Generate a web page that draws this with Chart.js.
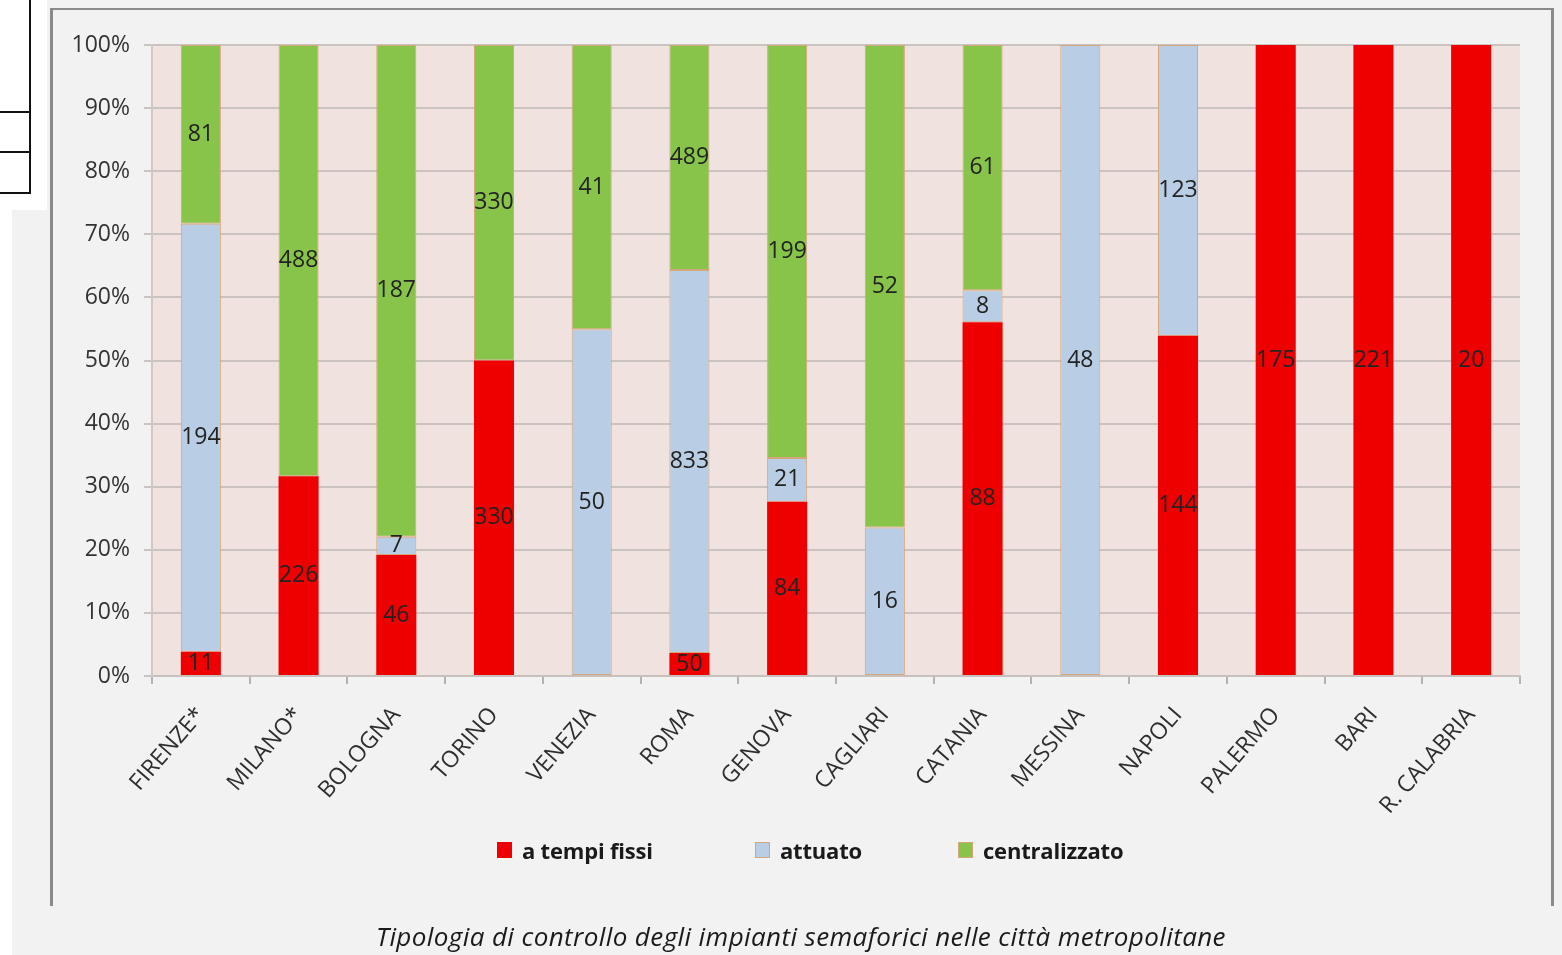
<!DOCTYPE html>
<html lang="it">
<head>
<meta charset="utf-8">
<title>Tipologia di controllo degli impianti semaforici</title>
<script src="https://cdn.jsdelivr.net/npm/chart.js@4/dist/chart.umd.min.js"></script>
<style>
  html, body { margin: 0; padding: 0; }
  body {
    width: 1562px; height: 955px; position: relative; overflow: hidden;
    background: #f2f2f2; font-family: "Open Sans", sans-serif;
  }
  .white { position: absolute; background: #fff; }
  .line { position: absolute; background: #111; }
  .frame { position: absolute; background: #8a8a8a; }
  #chart { position: absolute; left: 0; top: 0; }
  #legend {
    position: absolute; top: 835px; left: 0; width: 1562px; height: 32px;
  }
  .legend-item {
    position: absolute; top: 0; display: flex; align-items: center;
    font-weight: 700; font-size: 22px; color: #1a1a1a; white-space: nowrap;
    letter-spacing: -0.2px;
  }
  .legend-box {
    width: 15px; height: 16px; margin-right: 10px; box-sizing: border-box;
    border: 1px solid #d4a77a;
  }
  #caption {
    position: absolute; left: 40px; width: 1522px; top: 918px; text-align: center;
    font-style: italic; font-size: 26px; color: #1a1a1a; letter-spacing: 0.4px;
  }
</style>
</head>
<body>
<!-- page corner and stray table lines -->
<div class="white" style="left:0;top:0;width:47px;height:210px"></div>
<div class="white" style="left:0;top:0;width:12px;height:955px"></div>
<div class="line" style="left:29px;top:0;width:2px;height:194px"></div>
<div class="line" style="left:0;top:111px;width:31px;height:2px"></div>
<div class="line" style="left:0;top:151px;width:31px;height:2px"></div>
<div class="line" style="left:0;top:192px;width:31px;height:2px"></div>
<!-- outer frame -->
<div class="frame" style="left:50px;top:8px;width:1504px;height:2px"></div>
<div class="frame" style="left:50px;top:8px;width:3px;height:898px"></div>
<div class="frame" style="left:1551px;top:8px;width:3px;height:898px"></div>

<canvas id="chart" width="1562" height="955"></canvas>
<div id="legend"></div>
<div id="caption">Tipologia di controllo degli impianti semaforici nelle città metropolitane</div>

<script>
const cities = ["FIRENZE*", "MILANO*", "BOLOGNA", "TORINO", "VENEZIA", "ROMA", "GENOVA",
  "CAGLIARI", "CATANIA", "MESSINA", "NAPOLI", "PALERMO", "BARI", "R. CALABRIA"];
const tempiFissi = [11, 226, 46, 330, 0, 50, 84, 0, 88, 0, 144, 175, 221, 20];
const attuato = [194, 0, 7, 0, 50, 833, 21, 16, 8, 48, 123, 0, 0, 0];
const centralizzato = [81, 488, 187, 330, 41, 489, 199, 52, 61, 0, 0, 0, 0, 0];
const seriesNames = ["a tempi fissi", "attuato", "centralizzato"];
const seriesColors = ["#ee0000", "#b9cde5", "#88c34a"];

const totals = cities.map((_, i) => tempiFissi[i] + attuato[i] + centralizzato[i]);
// empty segments are left out so they draw no border
const share = (arr) => arr.map((v, i) => (v ? (v / totals[i]) * 100 : null));

const PLOT_LEFT = 152;
const PLOT_BOTTOM = 676;
const CANVAS_H = 955;

// pink plot background
const plotBg = {
  id: "plotBg",
  beforeDraw(chart) {
    const { ctx, chartArea: a } = chart;
    ctx.save();
    ctx.fillStyle = "#f0e2de";
    ctx.fillRect(a.left, a.top, a.right - a.left, a.bottom - a.top);
    ctx.restore();
  },
};

// raw counts written in the middle of each segment
const countLabels = {
  id: "countLabels",
  afterDatasetsDraw(chart) {
    const { ctx } = chart;
    ctx.save();
    ctx.font = '23px "Open Sans", sans-serif';
    ctx.fillStyle = "#222";
    ctx.textAlign = "center";
    ctx.textBaseline = "middle";
    chart.data.datasets.forEach((ds, di) => {
      chart.getDatasetMeta(di).data.forEach((bar, i) => {
        const n = ds.counts[i];
        if (!n) return;
        ctx.fillText(String(n), bar.x, (bar.y + bar.base) / 2);
      });
    });
    ctx.restore();
  },
};

const datasets = [tempiFissi, attuato, centralizzato].map((arr, k) => ({
  label: seriesNames[k],
  data: share(arr),
  counts: arr,
  backgroundColor: seriesColors[k],
  borderColor: "#d4a77a",
  borderWidth: k === 0 ? 0 : 1,
  borderSkipped: false,
  categoryPercentage: 1,
  barPercentage: 0.41,
}));

const chart = new Chart(document.getElementById("chart"), {
  type: "bar",
  data: { labels: cities, datasets },
  options: {
    responsive: false,
    animation: false,
    layout: { padding: { left: 0, top: 45, right: 42, bottom: 0 } },
    plugins: { legend: { display: false }, tooltip: { enabled: false } },
    scales: {
      x: {
        stacked: true,
        afterFit: (s) => { s.height = CANVAS_H - PLOT_BOTTOM; },
        grid: { offset: true, drawOnChartArea: false, drawTicks: true, tickLength: 8, color: "#b9b1ad", lineWidth: 2 },
        border: { color: "#c8c0bc", width: 2 },
        ticks: {
          minRotation: 49, maxRotation: 49, padding: 18, autoSkip: false,
          color: "#2e2e2e", font: { family: "Open Sans", size: 23 },
        },
      },
      y: {
        stacked: true,
        min: 0, max: 100,
        afterFit: (s) => { s.width = PLOT_LEFT; },
        grid: { color: "#cbc3bf", lineWidth: 2, tickLength: 8 },
        border: { color: "#d0c8c4", width: 2 },
        ticks: {
          stepSize: 10, padding: 14, color: "#333",
          font: { family: "Open Sans", size: 23 },
          callback: (v) => v + "%",
        },
      },
    },
  },
  plugins: [plotBg, countLabels],
});

// legend row
const legend = document.getElementById("legend");
const legendX = [497, 755, 958];
legend.innerHTML = chart.data.datasets
  .map((ds, i) => `
    <div class="legend-item" style="left:${legendX[i]}px">
      <span class="legend-box" style="background:${ds.backgroundColor}${i === 0 ? ";border:none" : ""}"></span>${ds.label}
    </div>`)
  .join("");
</script>
</body>
</html>
